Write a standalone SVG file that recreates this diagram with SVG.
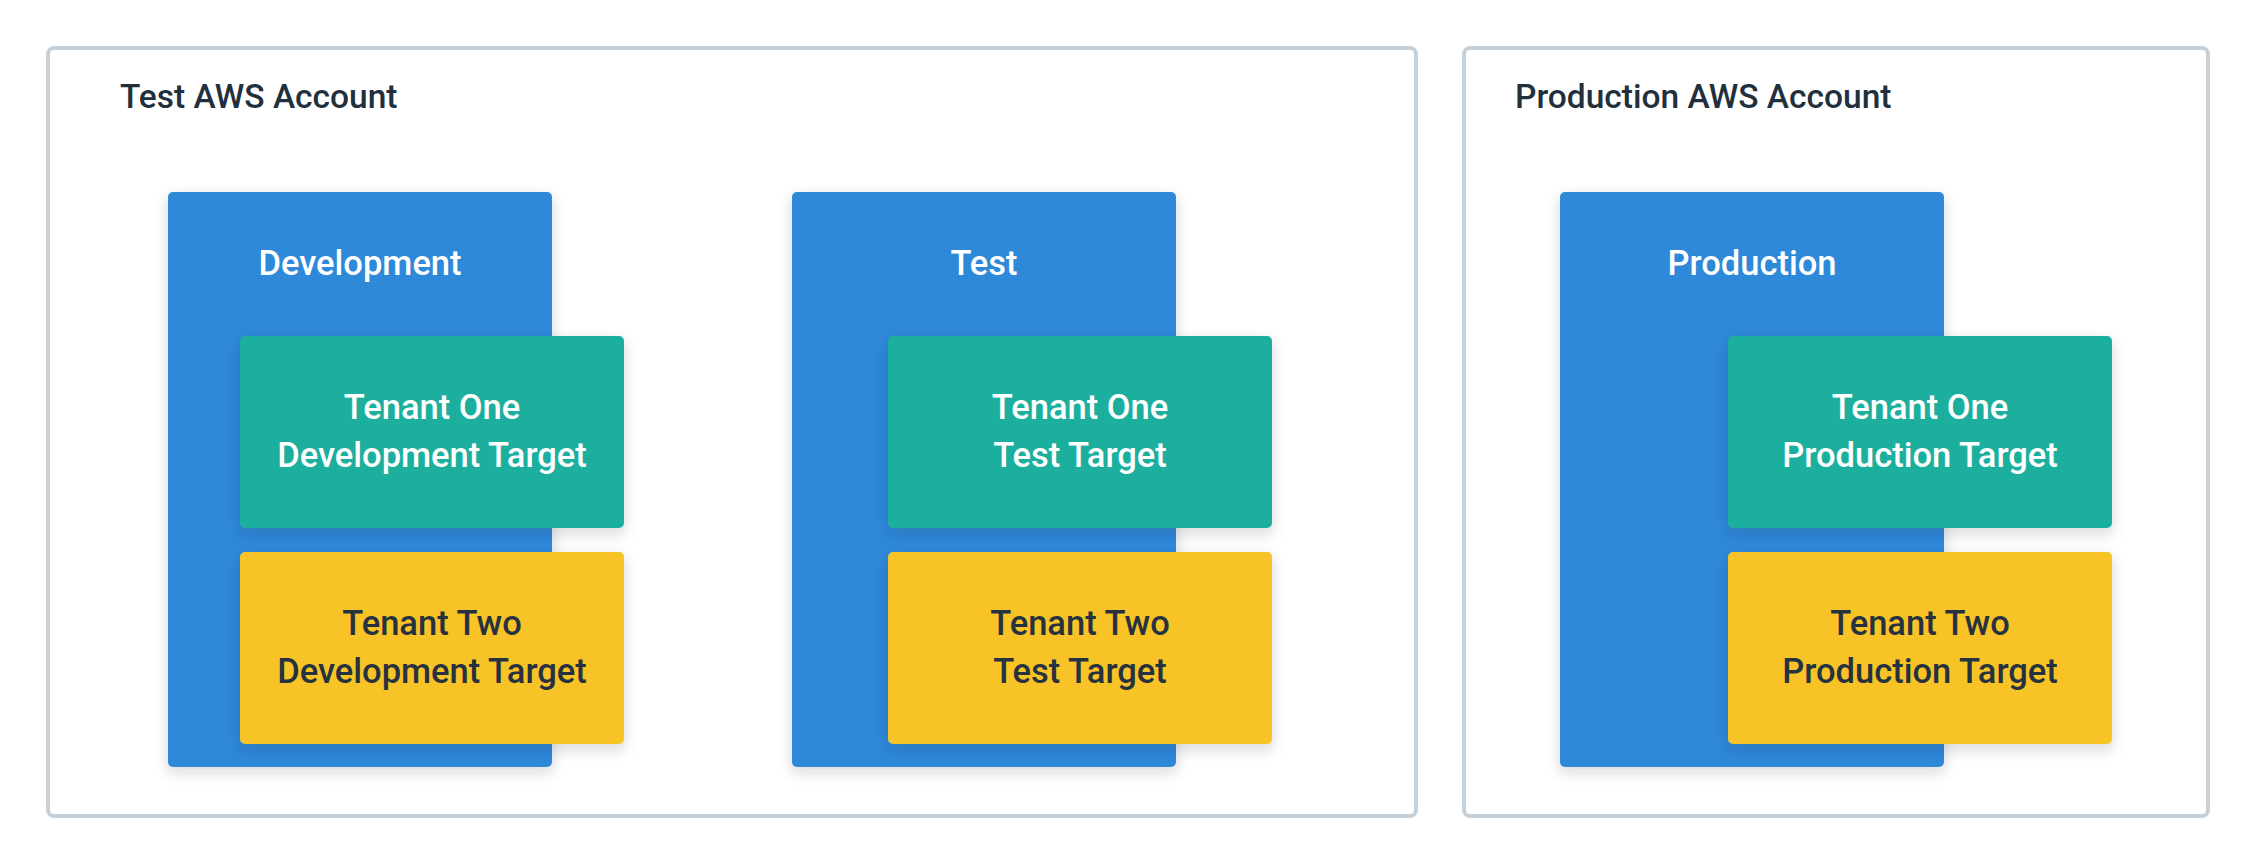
<svg xmlns="http://www.w3.org/2000/svg" width="2256" height="864" viewBox="0 0 2256 864">
  <defs>
    <filter id="shadow" x="-20%" y="-20%" width="140%" height="140%">
      <feDropShadow dx="0" dy="5" stdDeviation="7" flood-color="#1d2a36" flood-opacity="0.18"/>
    </filter>
    <style>
      .account { fill: #ffffff; stroke: #c4d0da; stroke-width: 4; }
      .title { font-family: Roboto, "Liberation Sans", sans-serif; font-size: 33.5px; font-weight: 500; fill: #22303d; }
      .env { fill: #2d89d9; filter: url(#shadow); }
      .t1 { fill: #1caf9e; filter: url(#shadow); }
      .t2 { fill: #f8c325; filter: url(#shadow); }
      .lbl { font-family: Roboto, "Liberation Sans", sans-serif; font-size: 34.5px; font-weight: 500; text-anchor: middle; }
      .w { fill: #ffffff; }
      .d { fill: #26323f; }
    </style>
  </defs>
  <rect width="2256" height="864" fill="#ffffff"/>

  <g id="test-account">
    <rect class="account" x="48" y="48" width="1368" height="768" rx="6"/>
    <text class="title" x="120" y="108">Test AWS Account</text>
  </g>
  <g id="production-account">
    <rect class="account" x="1464" y="48" width="744" height="768" rx="6"/>
    <text class="title" x="1515" y="108">Production AWS Account</text>
  </g>

  <g id="development">
    <rect class="env" x="168" y="192" width="384" height="575" rx="5"/>
    <text class="lbl w" x="360" y="275">Development</text>
  </g>
  <g id="dev-tenant-one">
    <rect class="t1" x="240" y="336" width="384" height="192" rx="5"/>
    <text class="lbl w" x="432" y="419">Tenant One</text>
    <text class="lbl w" x="432" y="467">Development Target</text>
  </g>
  <g id="dev-tenant-two">
    <rect class="t2" x="240" y="552" width="384" height="192" rx="5"/>
    <text class="lbl d" x="432" y="635">Tenant Two</text>
    <text class="lbl d" x="432" y="683">Development Target</text>
  </g>

  <g id="test">
    <rect class="env" x="792" y="192" width="384" height="575" rx="5"/>
    <text class="lbl w" x="984" y="275">Test</text>
  </g>
  <g id="test-tenant-one">
    <rect class="t1" x="888" y="336" width="384" height="192" rx="5"/>
    <text class="lbl w" x="1080" y="419">Tenant One</text>
    <text class="lbl w" x="1080" y="467">Test Target</text>
  </g>
  <g id="test-tenant-two">
    <rect class="t2" x="888" y="552" width="384" height="192" rx="5"/>
    <text class="lbl d" x="1080" y="635">Tenant Two</text>
    <text class="lbl d" x="1080" y="683">Test Target</text>
  </g>

  <g id="production">
    <rect class="env" x="1560" y="192" width="384" height="575" rx="5"/>
    <text class="lbl w" x="1752" y="275">Production</text>
  </g>
  <g id="prod-tenant-one">
    <rect class="t1" x="1728" y="336" width="384" height="192" rx="5"/>
    <text class="lbl w" x="1920" y="419">Tenant One</text>
    <text class="lbl w" x="1920" y="467">Production Target</text>
  </g>
  <g id="prod-tenant-two">
    <rect class="t2" x="1728" y="552" width="384" height="192" rx="5"/>
    <text class="lbl d" x="1920" y="635">Tenant Two</text>
    <text class="lbl d" x="1920" y="683">Production Target</text>
  </g>

  <g id="connectors"></g>
</svg>
